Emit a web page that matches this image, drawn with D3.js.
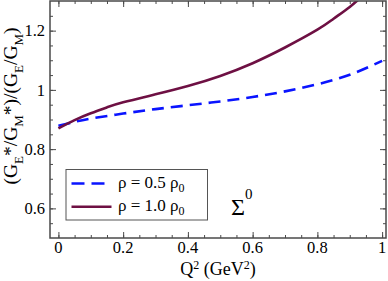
<!DOCTYPE html>
<html>
<head>
<meta charset="utf-8">
<script src="https://cdn.jsdelivr.net/npm/d3@7"></script>
<style>
  body { margin: 0; background: #fff; }
</style>
</head>
<body>
<div id="chart"></div>
<script>
// data
var q2Low = [0, 0.05, 0.1, 0.2, 0.3, 0.4, 0.5, 0.6, 0.7, 0.8, 0.9, 1.0];
var ratioLow = [0.879, 0.892, 0.903, 0.920, 0.935, 0.948, 0.961, 0.976, 0.995, 1.019, 1.051, 1.098]; // rho = 0.5 rho0
var q2High = [0, 0.05, 0.1, 0.15, 0.2, 0.3, 0.4, 0.5, 0.6, 0.7, 0.8, 0.85, 0.9, 0.94];
var ratioHigh = [0.870, 0.898, 0.921, 0.941, 0.958, 0.985, 1.013, 1.047, 1.090, 1.143, 1.203, 1.240, 1.280, 1.318]; // rho = 1.0 rho0
var xTicks = [0, 0.2, 0.4, 0.6, 0.8, 1];
var yTicks = [0.6, 0.8, 1, 1.2];
var legendLabels = ["0.5", "1.0"];

var width = 388, height = 281;
var margin = {left: 50, right: 2, top: 1, bottom: 43};
var fontSerif = "'Liberation Serif'";

var svg = d3.select("#chart").append("svg")
  .attr("width", width)
  .attr("height", height);

var x = d3.scaleLinear().domain([-0.026, 1.012]).range([margin.left, width - margin.right]);
var y = d3.scaleLinear().domain([0.5, 1.3]).range([height - margin.bottom, margin.top]);

var frameColor = "#4a4a4a";
var minorX = d3.range(0, 1.0001, 0.05);
var minorY = d3.range(0.55, 1.3, 0.05);

//clip for curves
svg.append("clipPath").attr("id", "clip")
  .append("rect")
    .attr("x", x.range()[0]).attr("y", y.range()[1])
    .attr("width", x.range()[1] - x.range()[0])
    .attr("height", y.range()[0] - y.range()[1]);

// ticks on all four sides, pointing inward
function ticks(g, axis, scale, vals, size) {
  g.call(axis(scale).tickValues(vals).tickSize(size).tickFormat(""))
   .call(s => s.select(".domain").remove())
   .selectAll("line").attr("stroke", frameColor).attr("stroke-width", 1);
}
var x0 = x.range()[0], x1 = x.range()[1], y0 = y.range()[0], y1 = y.range()[1];

ticks(svg.append("g").attr("transform", `translate(0,${y0})`), d3.axisTop, x, minorX, 3);
ticks(svg.append("g").attr("transform", `translate(0,${y0})`), d3.axisTop, x, xTicks, 6);
ticks(svg.append("g").attr("transform", `translate(0,${y1})`), d3.axisBottom, x, minorX, 3);
ticks(svg.append("g").attr("transform", `translate(0,${y1})`), d3.axisBottom, x, xTicks, 6);
ticks(svg.append("g").attr("transform", `translate(${x0},0)`), d3.axisRight, y, minorY, 3);
ticks(svg.append("g").attr("transform", `translate(${x0},0)`), d3.axisRight, y, yTicks, 6);
ticks(svg.append("g").attr("transform", `translate(${x1},0)`), d3.axisLeft, y, minorY, 3);
ticks(svg.append("g").attr("transform", `translate(${x1},0)`), d3.axisLeft, y, yTicks, 6);

// tick labels
svg.append("g").selectAll("text").data(xTicks).enter().append("text")
  .attr("x", d => x(d))
  .attr("y", 253)
  .attr("text-anchor", "middle")
  .style("font-family", fontSerif)
  .style("font-size", "16.5px")
  .text(d => d);

svg.append("g").selectAll("text").data(yTicks).enter().append("text")
  .attr("x", x0 - 5)
  .attr("y", d => y(d))
  .attr("dy", "0.35em")
  .attr("text-anchor", "end")
  .style("font-family", fontSerif)
  .style("font-size", "16.5px")
  .text(d => d);

// curves
var line = d3.line().curve(d3.curveNatural).x(d => x(d[0])).y(d => y(d[1]));
var curves = svg.append("g").attr("clip-path", "url(#clip)");

curves.append("path")
  .attr("d", line(d3.zip(q2Low, ratioLow)))
  .attr("fill", "none")
  .attr("stroke", "#0a14ff")
  .attr("stroke-width", 2.6)
  .attr("stroke-dasharray", "12,7");

curves.append("path")
  .attr("d", line(d3.zip(q2High, ratioHigh)))
  .attr("fill", "none")
  .attr("stroke", "#6e1043")
  .attr("stroke-width", 2.6);

// frame
svg.append("rect")
  .attr("x", x0).attr("y", y1)
  .attr("width", x1 - x0).attr("height", y0 - y1)
  .attr("fill", "none")
  .attr("stroke", frameColor)
  .attr("stroke-width", 1.5);

// axis titles
var xt = svg.append("text")
  .attr("x", (x0 + x1) / 2)
  .attr("y", 275)
  .attr("text-anchor", "middle")
  .style("font-family", fontSerif)
  .style("font-size", "18px");
xt.append("tspan").text("Q");
xt.append("tspan").attr("dy", -6).style("font-size", "12px").text("2");
xt.append("tspan").attr("dy", 6).text(" (GeV");
xt.append("tspan").attr("dy", -6).style("font-size", "12px").text("2");
xt.append("tspan").attr("dy", 6).text(")");

var yt = svg.append("text")
  .attr("transform", "translate(16.5,106) rotate(-90)")
  .attr("text-anchor", "middle")
  .style("font-family", fontSerif)
  .style("font-size", "19.5px");
var parts = [["(G", 0], ["E", 1], ["*/G", 0], ["M", 1], ["*)/(G", 0], ["E", 1], ["/G", 0], ["M", 1], [")", 0]];
var prev = 0;
parts.forEach(function(p) {
  var sub = p[1];
  yt.append("tspan")
    .attr("dy", (sub - prev) * 6)
    .style("font-size", sub ? "13px" : "19.5px")
    .text(p[0]);
  prev = sub;
});

// legend
var legend = svg.append("g");
legend.append("rect")
  .attr("x", 66).attr("y", 169.5)
  .attr("width", 141.5).attr("height", 50.5)
  .attr("fill", "#fff")
  .attr("stroke", "#555")
  .attr("stroke-width", 1);

var items = legend.selectAll(".item")
  .data(legendLabels)
  .enter().append("g")
    .attr("class", "item")
    .attr("transform", (d, i) => `translate(0,${183.5 + i * 23.3})`);

items.append("line")
  .attr("x1", 71.5).attr("x2", 111.5)
  .attr("stroke", (d, i) => i ? "#6e1043" : "#0a14ff")
  .attr("stroke-width", 2.6)
  .attr("stroke-dasharray", (d, i) => i ? null : "13,7");

var lt = items.append("text")
  .attr("x", 118)
  .attr("y", 4.5)
  .style("font-family", fontSerif)
  .style("font-size", "17px");
lt.append("tspan").text(d => "ρ = " + d + " ρ");
lt.append("tspan").attr("dy", 4).style("font-size", "12px").text("0");

// particle label
var sig = svg.append("text")
  .attr("x", 231)
  .attr("y", 215)
  .style("font-family", fontSerif)
  .style("font-size", "24px");
sig.append("tspan").text("Σ");
sig.append("tspan").attr("dy", -16).style("font-size", "15px").text("0");
</script>
</body>
</html>
